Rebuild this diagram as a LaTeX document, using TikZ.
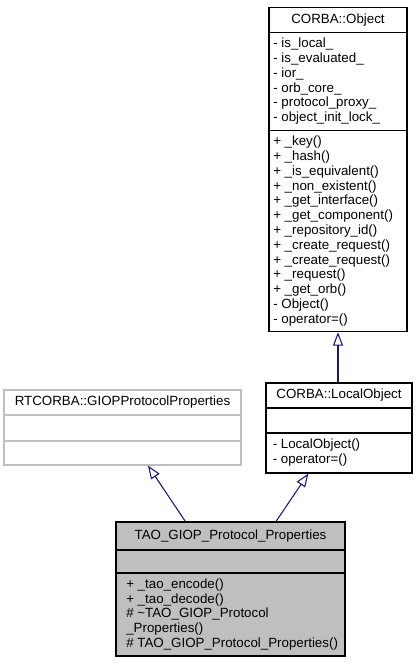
\documentclass[tikz,border=0pt]{standalone}
\usepackage{fontspec}
\setmainfont{Liberation Sans}
\usetikzlibrary{arrows.meta}
\definecolor{navy}{HTML}{191970}
\definecolor{boxgray}{HTML}{BFBFBF}
\begin{document}
\begin{tikzpicture}[x=0.75pt,y=-0.75pt,
  font=\fontsize{10}{12}\selectfont,
  box/.style={draw=black,line width=0.8pt,fill=white,inner sep=0pt,rectangle},
  ttl/.style={inner sep=0pt,anchor=center,text height=7pt,text depth=2pt},
  mem/.style={inner sep=0pt,anchor=west,text height=7pt,text depth=2pt},
  sepline/.style={draw=black,line width=0.8pt},
  inh/.style={draw=navy,line width=0.8pt,-{Triangle[open,length=10pt,width=7.5pt,line width=0.8pt]}}]
\useasboundingbox (0,0) rectangle (417,664);

% CORBA::Object
\node[box,minimum width={138*0.75pt},minimum height={324*0.75pt}] (obj) at (338,169.7) {};
\draw[sepline] (obj.west |- 0,32.3) -- (obj.east |- 0,32.3);
\draw[sepline] (obj.west |- 0,130.3) -- (obj.east |- 0,130.3);
\node[ttl] (objT) at (338,20) {CORBA::Object};
\foreach \t [count=\i] in {{- is\_local\_},{- is\_evaluated\_},{- ior\_},{- orb\_core\_},{- protocol\_proxy\_},{- object\_init\_lock\_}}
  \node[mem] (oa\i) at (273,{44.3+14.8*(\i-1)}) {\t};
\foreach \t [count=\i] in {{+ \_key()},{+ \_hash()},{+ \_is\_equivalent()},{+ \_non\_existent()},{+ \_get\_interface()},{+ \_get\_component()},{+ \_repository\_id()},{+ \_create\_request()},{+ \_create\_request()},{+ \_request()},{+ \_get\_orb()},{- Object()},{- operator=()}}
  \node[mem] (om\i) at (273,{142.3+14.8*(\i-1)}) {\t};

% CORBA::LocalObject
\node[box,minimum width={146*0.75pt},minimum height={90*0.75pt}] (lo) at (339,428) {};
\draw[sepline] (lo.west |- 0,408) -- (lo.east |- 0,408);
\draw[sepline] (lo.west |- 0,433) -- (lo.east |- 0,433);
\node[ttl] (loT) at (339,395.5) {CORBA::LocalObject};
\node[mem] (lom1) at (272.5,445) {- LocalObject()};
\node[mem] (lom2) at (272.5,459.8) {- operator=()};

% RTCORBA::GIOPProtocolProperties
\node[box,draw=boxgray,minimum width={237*0.75pt},minimum height={75*0.75pt}] (rt) at (122.5,427.5) {};
\draw[sepline,draw=boxgray] (rt.west |- 0,415) -- (rt.east |- 0,415);
\draw[sepline,draw=boxgray] (rt.west |- 0,441) -- (rt.east |- 0,441);
\node[ttl] (rtT) at (122.5,402.5) {RTCORBA::GIOPProtocolProperties};

% TAO_GIOP_Protocol_Properties
\node[box,fill=boxgray,minimum width={229*0.75pt},minimum height={134*0.75pt}] (tao) at (230.5,589) {};
\draw[sepline] (tao.west |- 0,550) -- (tao.east |- 0,550);
\draw[sepline] (tao.west |- 0,573) -- (tao.east |- 0,573);
\node[ttl] (taoT) at (230.5,536) {TAO\_GIOP\_Protocol\_Properties};
\foreach \t [count=\i] in {{+ \_tao\_encode()},{+ \_tao\_decode()},{\# \textasciitilde TAO\_GIOP\_Protocol},{\_Properties()},{\# TAO\_GIOP\_Protocol\_Properties()}}
  \node[mem] (tm\i) at (126,{585+14.8*(\i-1)}) {\t};

% inheritance
\draw[inh] (tao) -- (rt);
\draw[inh] (tao) -- (lo);
\draw[inh] (lo.north -| obj.south) -- (obj.south);
\end{tikzpicture}
\end{document}
